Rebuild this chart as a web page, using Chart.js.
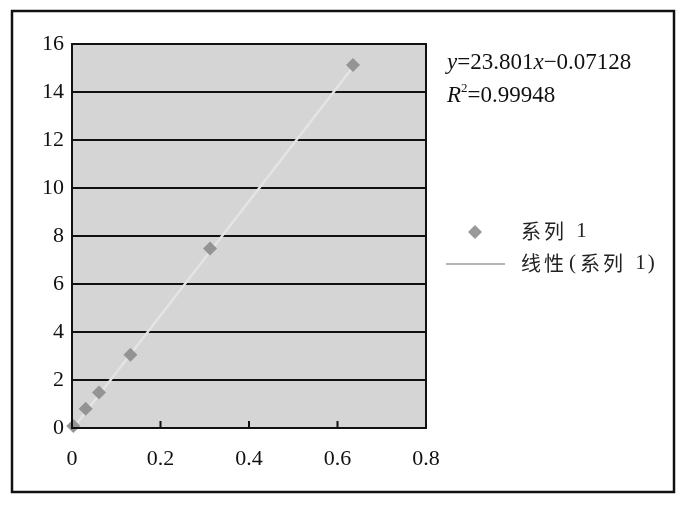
<!DOCTYPE html>
<html>
<head>
<meta charset="utf-8">
<script src="https://cdn.jsdelivr.net/npm/chart.js@4.4.1/dist/chart.umd.min.js"></script>
<style>
	body { margin: 0; background: #fff; }
	canvas { display: block; }
</style>
</head>
<body>
<canvas id="chart" width="695" height="517"></canvas>
<script>
// measured points (系列 1)
var xValues = [0.003, 0.031, 0.061, 0.132, 0.312, 0.635]
var yValues = [0.08, 0.8, 1.48, 3.05, 7.48, 15.12]
// trend line as printed on the chart
var slope = 23.801
var intercept = -0.07128
var rSquared = '0.99948'
var trendRange = [0, 0.635]
var seriesName = ['系列', ' 1']
var trendName = ['线性', '(', '系列', ' 1)']

var points = xValues.map(function (x, i) { return {x: x, y: yValues[i]} })
var trend = trendRange.map(function (x) { return {x: x, y: slope * x + intercept} })

var serif = '"Liberation Serif", "Times New Roman", serif'
var cjk = '"Noto Sans CJK SC", sans-serif'

// mixed CJK / latin text, like the original
function mixed(c, parts, x, y) {
	parts.forEach(function (p) {
		var isCjk = /[\u4e00-\u9fff]/.test(p)
		c.font = isCjk ? '20px ' + cjk : '21px ' + serif
		c.letterSpacing = isCjk ? '3px' : '2px'
		c.fillText(p, x, y)
		x += c.measureText(p).width + 2
	})
	c.letterSpacing = '0px'
}

var decor = {
	id: 'decor',
	beforeDraw: function (chart) {
		var c = chart.ctx, a = chart.chartArea
		c.save()
		c.fillStyle = '#d5d5d5'
		c.fillRect(a.left, a.top, a.right - a.left, a.bottom - a.top)
		c.restore()
	},
	afterDraw: function (chart) {
		var c = chart.ctx, a = chart.chartArea
		var xs = chart.scales.x
		c.save()
		// plot border
		c.strokeStyle = '#111'
		c.lineWidth = 2
		c.strokeRect(a.left, a.top, a.right - a.left, a.bottom - a.top)
		// inward ticks on x axis
		c.beginPath()
		xs.ticks.forEach(function (t) {
			var px = xs.getPixelForValue(t.value)
			c.moveTo(px, a.bottom)
			c.lineTo(px, a.bottom - 7)
		})
		c.stroke()
		// outer frame
		c.lineWidth = 2.5
		c.strokeRect(12, 11, 662, 481)

		// equation
		c.fillStyle = '#111'
		c.textBaseline = 'alphabetic'
		var x = 447, y = 69
		var parts = [['y', 1], ['=23.801', 0], ['x', 1], ['\u22120.07128', 0]]
		parts.forEach(function (p) {
			c.font = (p[1] ? 'italic ' : '') + '23px ' + serif
			c.fillText(p[0], x, y)
			x += c.measureText(p[0]).width
		})
		x = 447; y = 102
		c.font = 'italic 23px ' + serif
		c.fillText('R', x, y)
		x += c.measureText('R').width
		c.font = '13px ' + serif
		c.fillText('2', x, y - 10)
		x += c.measureText('2').width
		c.font = '23px ' + serif
		c.fillText('=' + rSquared, x, y)

		// legend
		c.fillStyle = '#999'
		c.beginPath()
		c.moveTo(475, 225); c.lineTo(482, 232); c.lineTo(475, 239); c.lineTo(468, 232)
		c.closePath()
		c.fill()
		c.strokeStyle = '#b4b4b4'
		c.lineWidth = 2
		c.beginPath()
		c.moveTo(446, 264); c.lineTo(505, 264)
		c.stroke()
		c.fillStyle = '#222'
		c.textBaseline = 'middle'
		mixed(c, seriesName, 521, 231)
		mixed(c, trendName, 521, 263)
		c.restore()
	}
}

var chart = new Chart(document.getElementById('chart'), {
	type: 'scatter',
	data: {
		datasets: [
			{
				label: trendName.join(''),
				type: 'line',
				data: trend,
				borderColor: '#e4e4e4',
				borderWidth: 2.5,
				pointRadius: 0,
				fill: false,
				order: 2
			},
			{
				label: seriesName.join(''),
				data: points,
				pointStyle: 'rectRot',
				pointRadius: 7,
				backgroundColor: '#949494',
				borderColor: '#949494',
				borderWidth: 0,
				clip: false,
				order: 1
			}
		]
	},
	options: {
		responsive: false,
		animation: false,
		layout: {padding: {left: 12, top: 44, right: 269, bottom: 49}},
		plugins: {legend: {display: false}, tooltip: {enabled: false}},
		scales: {
			x: {
				type: 'linear',
				min: 0,
				max: 0.8,
				ticks: {stepSize: 0.2, color: '#111', padding: 10, font: {family: serif, size: 22}},
				grid: {display: false},
				border: {display: false},
				afterFit: function (s) { s.height = 40 }
			},
			y: {
				min: 0,
				max: 16,
				ticks: {stepSize: 2, color: '#111', padding: 8, font: {family: serif, size: 22}},
				grid: {color: '#111', lineWidth: 2, drawTicks: false},
				border: {display: false},
				afterFit: function (s) { s.width = 60 }
			}
		}
	},
	plugins: [decor]
})
</script>
</body>
</html>
